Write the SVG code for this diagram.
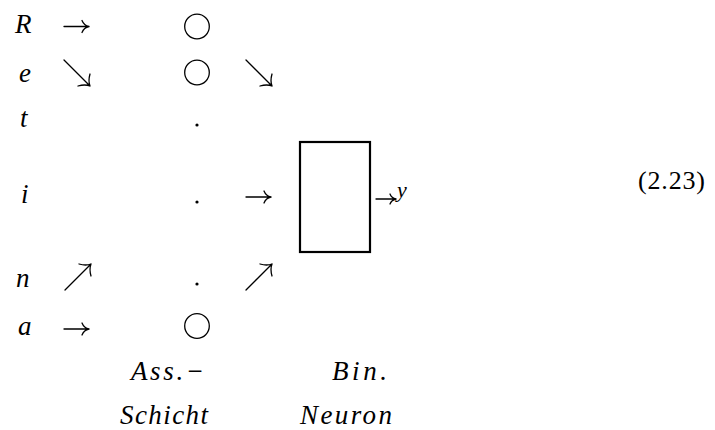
<svg xmlns="http://www.w3.org/2000/svg" width="715" height="430" viewBox="0 0 715 430">
  <style>
    .m { font-family: "Liberation Serif", "Times New Roman", serif; font-style: italic; font-size: 27px; fill: #000; }
    .n { font-family: "Liberation Serif", "Times New Roman", serif; font-size: 26px; fill: #000; }
    .s { font-family: "Liberation Serif", "Times New Roman", serif; font-style: italic; font-size: 22px; fill: #000; }
    .ar { fill: none; stroke: #000; stroke-width: 1.3; stroke-linecap: round; }
    .node { fill: none; stroke: #000; stroke-width: 1.3; }
    .box { fill: none; stroke: #000; stroke-width: 2.2; }
  </style>
  <defs>
    <path id="arr-r" class="ar" d="M0,0 H25 M18,-6 Q20,-1 25,0 M18,6 Q20,1 25,0"/>
    <path id="arr-se" class="ar" d="M0,0 L26,26 M14,26 Q21,24 26,26 M26,14 Q24,21 26,26"/>
    <path id="arr-ne" class="ar" d="M0,0 L26,-26 M14,-26 Q21,-24 26,-26 M26,-14 Q24,-21 26,-26"/>
  </defs>

  <g id="inputs">
    <text class="m" x="15" y="33">R</text>
    <text class="m" x="19" y="82">e</text>
    <text class="m" x="20" y="127">t</text>
    <text class="m" x="21" y="203">i</text>
    <text class="m" x="16" y="287">n</text>
    <text class="m" x="18" y="335">a</text>
  </g>

  <g id="assoc-layer">
    <circle class="node" cx="197" cy="26.5" r="12.3"/>
    <circle class="node" cx="197" cy="72.5" r="12.3"/>
    <circle cx="197" cy="125" r="1.6"/>
    <circle cx="197" cy="202" r="1.6"/>
    <circle cx="197" cy="284" r="1.6"/>
    <circle class="node" cx="197" cy="326" r="12.3"/>
  </g>

  <g id="binary-neuron">
    <rect class="box" x="300" y="142" width="70" height="110"/>
  </g>

  <g id="connectors">
    <use href="#arr-r" x="64" y="26.5"/>
    <use href="#arr-se" x="64" y="60"/>
    <use href="#arr-se" x="246" y="60"/>
    <use href="#arr-r" x="246" y="197"/>
    <use href="#arr-ne" x="65" y="290"/>
    <use href="#arr-ne" x="246" y="290"/>
    <use href="#arr-r" x="64" y="329"/>
    <path class="ar" d="M376,199 H396 M390,194 Q391.5,198 396,199 M390,204 Q391.5,200 396,199"/>
    <text class="s" x="397" y="197">y</text>
  </g>

  <g id="labels">
    <text class="m" x="131" y="380" textLength="73" lengthAdjust="spacing">Ass.−</text>
    <text class="m" x="120" y="424" textLength="88" lengthAdjust="spacing">Schicht</text>
    <text class="m" x="332" y="380" textLength="55" lengthAdjust="spacing">Bin.</text>
    <text class="m" x="300" y="424" textLength="92" lengthAdjust="spacing">Neuron</text>
  </g>

  <text class="n" x="638" y="189" textLength="67" lengthAdjust="spacing">(2.23)</text>
</svg>
